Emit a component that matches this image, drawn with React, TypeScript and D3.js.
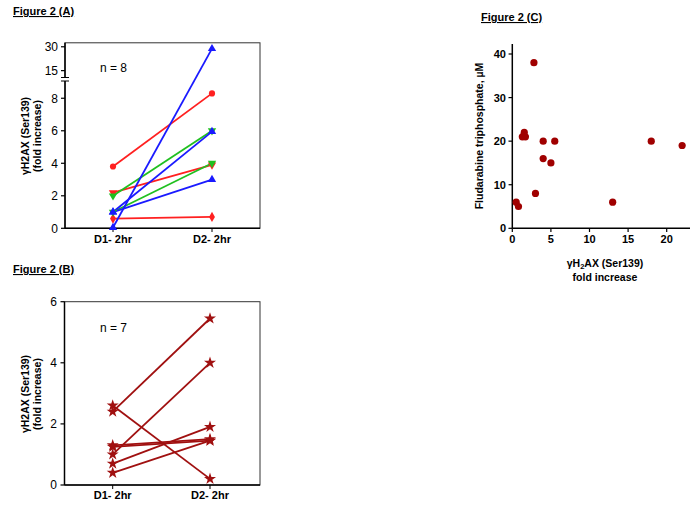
import React from "react";
import * as d3 from "d3";

const groupsA = ["D1- 2hr", "D2- 2hr"];
const seriesA = [
  { color: "#ff2020", shape: "circle", values: [3.8, 8.3] },
  { color: "#ff2020", shape: "down", values: [2.2, 3.9] },
  { color: "#ff2020", shape: "diamond", values: [0.6, 0.7] },
  { color: "#20c020", shape: "down", values: [2.0, 6.0] },
  { color: "#20c020", shape: "down", values: [1.0, 4.0] },
  { color: "#1a1aff", shape: "up", values: [0.05, 28.8] },
  { color: "#1a1aff", shape: "up", values: [1.0, 5.95] },
  { color: "#1a1aff", shape: "up", values: [1.0, 3.0] },
];
const ticksA = [0, 2, 4, 6, 8, 15, 30];

const seriesB = [
  [2.4, 5.45],
  [2.6, 0.2],
  [1.0, 4.0],
  [1.3, 1.5],
  [1.25, 1.45],
  [0.7, 1.9],
  [0.4, 1.45],
];
const ticksB = [0, 2, 4, 6];

const pointsCx = [0.5, 0.8, 1.3, 1.55, 1.7, 1.5, 2.8, 3.0, 4.0, 4.0, 5.0, 5.5, 13, 18, 22];
const pointsCy = [6, 5, 21, 22, 21, 21.3, 38, 8, 20, 16, 15, 20, 6, 20, 19];
const ticksCx = [0, 5, 10, 15, 20];
const ticksCy = [0, 10, 20, 30, 40];

const FONT = "Arial, 'Liberation Sans', sans-serif";

function Marker({ shape, x, y, color }: { shape: string; x: number; y: number; color: string }) {
  const map: Record<string, d3.SymbolType> = {
    circle: d3.symbolCircle,
    up: d3.symbolTriangle,
    down: d3.symbolTriangle,
    diamond: d3.symbolDiamond,
    star: d3.symbolStar,
  };
  const size = shape === "star" ? 45 : shape === "circle" ? 30 : 30;
  const p = d3.symbol().type(map[shape]).size(size)()!;
  const rot = shape === "down" ? 180 : 0;
  return <path d={p} transform={`translate(${x},${y}) rotate(${rot})`} fill={color} />;
}

export default function App() {
  // Panel A
  const xA = d3.scalePoint<string>().domain(groupsA).range([113, 212]);
  const yA = d3.scaleLinear().domain([0, 9, 12, 32.5]).range([228.3, 82, 75.4, 42.8]);
  // Panel B
  const xB = d3.scalePoint<string>().domain(groupsA).range([112.7, 210]);
  const yB = d3.scaleLinear().domain([0, 6]).range([485, 301.7]);
  // Panel C
  const xC = d3.scaleLinear().domain([0, 20]).range([512.3, 666.7]);
  const yC = d3.scaleLinear().domain([0, 40]).range([228.3, 54]);

  const line = (xs: d3.ScalePoint<string>, ys: d3.ScaleLinear<number, number>, vals: number[]) =>
    d3.line<number>().x((_, i) => xs(groupsA[i])!).y((v) => ys(v))(vals)!;

  return (
    <svg width={700} height={505} style={{ position: "absolute", left: 0, top: 0 }} fontFamily={FONT}>
      <rect width={700} height={505} fill="#fff" />
      {/* Titles */}
      <text x={13} y={15} fontSize={11} fontWeight="bold" textDecoration="underline">Figure 2 (A)</text>
      <text x={13} y={273} fontSize={11} fontWeight="bold" textDecoration="underline">Figure 2 (B)</text>
      <text x={481} y={21} fontSize={11} fontWeight="bold" textDecoration="underline">Figure 2 (C)</text>

      {/* Panel A */}
      <rect x={65} y={42.8} width={195} height={185.5} fill="none" stroke="#333" strokeWidth={1} />
      <line x1={65} x2={65} y1={42.8} y2={228.3} stroke="#000" strokeWidth={1.5} />
      <line x1={65} x2={260} y1={228.3} y2={228.3} stroke="#000" strokeWidth={1.5} />
      {ticksA.map((t) => (
        <g key={t}>
          <line x1={61} x2={65} y1={yA(t)} y2={yA(t)} stroke="#000" strokeWidth={1.2} />
          <text x={58} y={yA(t)} dy="0.36em" textAnchor="end" fontSize={12}>{t}</text>
        </g>
      ))}
      {/* axis break */}
      <rect x={60} y={77.5} width={10} height={3.5} fill="#fff" />
      <line x1={61} x2={69} y1={77.5} y2={77.5} stroke="#000" strokeWidth={1} />
      <line x1={61} x2={69} y1={81} y2={81} stroke="#000" strokeWidth={1} />
      {groupsA.map((g) => (
        <g key={g}>
          <line x1={xA(g)} x2={xA(g)} y1={228.3} y2={232} stroke="#000" />
          <text x={xA(g)} y={243} textAnchor="middle" fontSize={11} fontWeight="bold">{g}</text>
        </g>
      ))}
      {seriesA.map((s, i) => (
        <path key={i} d={line(xA, yA, s.values)} stroke={s.color} strokeWidth={1.8} fill="none" />
      ))}
      {seriesA.map((s, i) =>
        s.values.map((v, j) => <Marker key={`${i}-${j}`} shape={s.shape} x={xA(groupsA[j])!} y={yA(v)} color={s.color} />)
      )}
      <text x={100} y={72} fontSize={12}>n = 8</text>
      <text transform="translate(29,136) rotate(-90)" textAnchor="middle" fontSize={10.5} fontWeight="bold">γH2AX (Ser139)</text>
      <text transform="translate(41,136) rotate(-90)" textAnchor="middle" fontSize={10.5} fontWeight="bold">(fold increase)</text>

      {/* Panel B */}
      <rect x={64.5} y={301.7} width={195.5} height={183.3} fill="none" stroke="#333" strokeWidth={1} />
      <line x1={64.5} x2={64.5} y1={301.7} y2={485} stroke="#000" strokeWidth={1.5} />
      <line x1={64.5} x2={260} y1={485} y2={485} stroke="#000" strokeWidth={1.5} />
      {ticksB.map((t) => (
        <g key={t}>
          <line x1={60.5} x2={64.5} y1={yB(t)} y2={yB(t)} stroke="#000" strokeWidth={1.2} />
          <text x={57} y={yB(t)} dy="0.36em" textAnchor="end" fontSize={12}>{t}</text>
        </g>
      ))}
      {groupsA.map((g) => (
        <g key={g}>
          <line x1={xB(g)} x2={xB(g)} y1={485} y2={489} stroke="#000" />
          <text x={xB(g)} y={499} textAnchor="middle" fontSize={11} fontWeight="bold">{g}</text>
        </g>
      ))}
      {seriesB.map((s, i) => (
        <path key={i} d={line(xB, yB, s)} stroke="#a01010" strokeWidth={1.8} fill="none" />
      ))}
      {seriesB.map((s, i) =>
        s.map((v, j) => <Marker key={`${i}-${j}`} shape="star" x={xB(groupsA[j])!} y={yB(v)} color="#a01010" />)
      )}
      <text x={100} y={332} fontSize={12}>n = 7</text>
      <text transform="translate(29,394) rotate(-90)" textAnchor="middle" fontSize={10.5} fontWeight="bold">γH2AX (Ser139)</text>
      <text transform="translate(41,394) rotate(-90)" textAnchor="middle" fontSize={10.5} fontWeight="bold">(fold increase)</text>

      {/* Panel C */}
      <line x1={512.3} x2={512.3} y1={44} y2={228.3} stroke="#000" strokeWidth={1.5} />
      <line x1={512.3} x2={690} y1={228.3} y2={228.3} stroke="#000" strokeWidth={1.5} />
      {ticksCy.map((t) => (
        <g key={t}>
          <line x1={508.5} x2={512.3} y1={yC(t)} y2={yC(t)} stroke="#000" strokeWidth={1.2} />
          <text x={506} y={yC(t)} dy="0.36em" textAnchor="end" fontSize={11} fontWeight="bold">{t}</text>
        </g>
      ))}
      {ticksCx.map((t) => (
        <g key={t}>
          <line x1={xC(t)} x2={xC(t)} y1={228.3} y2={232} stroke="#000" strokeWidth={1.2} />
          <text x={xC(t)} y={243} textAnchor="middle" fontSize={11} fontWeight="bold">{t}</text>
        </g>
      ))}
      {pointsCx.map((x, i) => (
        <circle key={i} cx={xC(x)} cy={yC(pointsCy[i])} r={3.6} fill="#a00000" />
      ))}
      <text transform="translate(483,136) rotate(-90)" textAnchor="middle" fontSize={10.5} fontWeight="bold">Fludarabine triphosphate, µM</text>
      <text x={605} y={267} textAnchor="middle" fontSize={10.5} fontWeight="bold">
        γH<tspan fontSize={7.5} dy={2}>2</tspan><tspan dy={-2}>AX (Ser139)</tspan>
      </text>
      <text x={605} y={281} textAnchor="middle" fontSize={10.5} fontWeight="bold">fold increase</text>
    </svg>
  );
}
